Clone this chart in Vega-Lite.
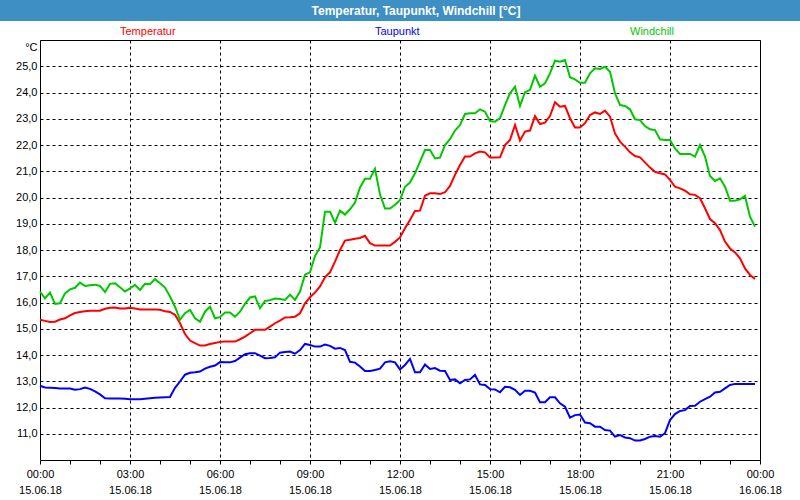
{
  "$schema": "https://vega.github.io/schema/vega-lite/v6.json",
  "padding": 0,
  "background": "white",
  "bounds": "flush",
  "center": true,
  "spacing": 19,
  "config": {"font": "Liberation Sans", "view": {"stroke": null}},
  "vconcat": [
    {
      "width": 800,
      "height": 21,
      "view": {"fill": "#3d8fc4", "stroke": null},
      "data": {"values": [{"label": "Temperatur, Taupunkt, Windchill [°C]"}]},
      "mark": {"type": "text", "color": "white", "fontWeight": "bold", "fontSize": 12, "font": "Liberation Sans", "dx": 16},
      "encoding": {"text": {"field": "label", "type": "nominal"}}
    },
    {
      "width": 720,
      "height": 420,
      "view": {"stroke": "black", "strokeWidth": 1},
      "data": {"values": [
        {"time": "2018-06-15T00:00:00Z", "Temperatur": 15.34, "Taupunkt": 12.83, "Windchill": 16.42},
        {"time": "2018-06-15T00:10:00Z", "Temperatur": 15.30, "Taupunkt": 12.76, "Windchill": 16.16},
        {"time": "2018-06-15T00:20:00Z", "Temperatur": 15.26, "Taupunkt": 12.75, "Windchill": 16.38},
        {"time": "2018-06-15T00:30:00Z", "Temperatur": 15.27, "Taupunkt": 12.74, "Windchill": 15.95},
        {"time": "2018-06-15T00:40:00Z", "Temperatur": 15.35, "Taupunkt": 12.72, "Windchill": 15.97},
        {"time": "2018-06-15T00:50:00Z", "Temperatur": 15.40, "Taupunkt": 12.72, "Windchill": 16.35},
        {"time": "2018-06-15T01:00:00Z", "Temperatur": 15.51, "Taupunkt": 12.72, "Windchill": 16.50},
        {"time": "2018-06-15T01:10:00Z", "Temperatur": 15.60, "Taupunkt": 12.68, "Windchill": 16.56},
        {"time": "2018-06-15T01:20:00Z", "Temperatur": 15.64, "Taupunkt": 12.70, "Windchill": 16.76},
        {"time": "2018-06-15T01:30:00Z", "Temperatur": 15.67, "Taupunkt": 12.76, "Windchill": 16.63},
        {"time": "2018-06-15T01:40:00Z", "Temperatur": 15.69, "Taupunkt": 12.71, "Windchill": 16.66},
        {"time": "2018-06-15T01:50:00Z", "Temperatur": 15.69, "Taupunkt": 12.61, "Windchill": 16.68},
        {"time": "2018-06-15T02:00:00Z", "Temperatur": 15.69, "Taupunkt": 12.50, "Windchill": 16.63},
        {"time": "2018-06-15T02:10:00Z", "Temperatur": 15.76, "Taupunkt": 12.35, "Windchill": 16.40},
        {"time": "2018-06-15T02:20:00Z", "Temperatur": 15.80, "Taupunkt": 12.34, "Windchill": 16.71},
        {"time": "2018-06-15T02:30:00Z", "Temperatur": 15.81, "Taupunkt": 12.34, "Windchill": 16.73},
        {"time": "2018-06-15T02:40:00Z", "Temperatur": 15.77, "Taupunkt": 12.34, "Windchill": 16.58},
        {"time": "2018-06-15T02:50:00Z", "Temperatur": 15.77, "Taupunkt": 12.33, "Windchill": 16.42},
        {"time": "2018-06-15T03:00:00Z", "Temperatur": 15.80, "Taupunkt": 12.31, "Windchill": 16.54},
        {"time": "2018-06-15T03:10:00Z", "Temperatur": 15.77, "Taupunkt": 12.31, "Windchill": 16.67},
        {"time": "2018-06-15T03:20:00Z", "Temperatur": 15.73, "Taupunkt": 12.31, "Windchill": 16.48},
        {"time": "2018-06-15T03:30:00Z", "Temperatur": 15.73, "Taupunkt": 12.33, "Windchill": 16.71},
        {"time": "2018-06-15T03:40:00Z", "Temperatur": 15.73, "Taupunkt": 12.35, "Windchill": 16.70},
        {"time": "2018-06-15T03:50:00Z", "Temperatur": 15.73, "Taupunkt": 12.37, "Windchill": 16.89},
        {"time": "2018-06-15T04:00:00Z", "Temperatur": 15.72, "Taupunkt": 12.38, "Windchill": 16.73},
        {"time": "2018-06-15T04:10:00Z", "Temperatur": 15.67, "Taupunkt": 12.39, "Windchill": 16.57},
        {"time": "2018-06-15T04:20:00Z", "Temperatur": 15.64, "Taupunkt": 12.40, "Windchill": 16.23},
        {"time": "2018-06-15T04:30:00Z", "Temperatur": 15.53, "Taupunkt": 12.75, "Windchill": 15.84},
        {"time": "2018-06-15T04:40:00Z", "Temperatur": 15.21, "Taupunkt": 12.99, "Windchill": 15.34},
        {"time": "2018-06-15T04:50:00Z", "Temperatur": 14.80, "Taupunkt": 13.25, "Windchill": 15.59},
        {"time": "2018-06-15T05:00:00Z", "Temperatur": 14.55, "Taupunkt": 13.32, "Windchill": 15.72},
        {"time": "2018-06-15T05:10:00Z", "Temperatur": 14.45, "Taupunkt": 13.34, "Windchill": 15.40},
        {"time": "2018-06-15T05:20:00Z", "Temperatur": 14.36, "Taupunkt": 13.37, "Windchill": 15.27},
        {"time": "2018-06-15T05:30:00Z", "Temperatur": 14.36, "Taupunkt": 13.48, "Windchill": 15.65},
        {"time": "2018-06-15T05:40:00Z", "Temperatur": 14.42, "Taupunkt": 13.55, "Windchill": 15.84},
        {"time": "2018-06-15T05:50:00Z", "Temperatur": 14.46, "Taupunkt": 13.60, "Windchill": 15.40},
        {"time": "2018-06-15T06:00:00Z", "Temperatur": 14.50, "Taupunkt": 13.73, "Windchill": 15.44},
        {"time": "2018-06-15T06:10:00Z", "Temperatur": 14.51, "Taupunkt": 13.72, "Windchill": 15.62},
        {"time": "2018-06-15T06:20:00Z", "Temperatur": 14.51, "Taupunkt": 13.72, "Windchill": 15.62},
        {"time": "2018-06-15T06:30:00Z", "Temperatur": 14.51, "Taupunkt": 13.77, "Windchill": 15.46},
        {"time": "2018-06-15T06:40:00Z", "Temperatur": 14.60, "Taupunkt": 13.90, "Windchill": 15.65},
        {"time": "2018-06-15T06:50:00Z", "Temperatur": 14.70, "Taupunkt": 14.03, "Windchill": 15.95},
        {"time": "2018-06-15T07:00:00Z", "Temperatur": 14.83, "Taupunkt": 14.07, "Windchill": 16.19},
        {"time": "2018-06-15T07:10:00Z", "Temperatur": 14.96, "Taupunkt": 14.07, "Windchill": 16.23},
        {"time": "2018-06-15T07:20:00Z", "Temperatur": 14.96, "Taupunkt": 13.98, "Windchill": 15.78},
        {"time": "2018-06-15T07:30:00Z", "Temperatur": 14.96, "Taupunkt": 13.88, "Windchill": 16.06},
        {"time": "2018-06-15T07:40:00Z", "Temperatur": 15.08, "Taupunkt": 13.89, "Windchill": 16.09},
        {"time": "2018-06-15T07:50:00Z", "Temperatur": 15.21, "Taupunkt": 13.91, "Windchill": 16.15},
        {"time": "2018-06-15T08:00:00Z", "Temperatur": 15.31, "Taupunkt": 14.09, "Windchill": 16.13},
        {"time": "2018-06-15T08:10:00Z", "Temperatur": 15.43, "Taupunkt": 14.11, "Windchill": 16.10},
        {"time": "2018-06-15T08:20:00Z", "Temperatur": 15.44, "Taupunkt": 14.13, "Windchill": 16.30},
        {"time": "2018-06-15T08:30:00Z", "Temperatur": 15.46, "Taupunkt": 14.05, "Windchill": 16.10},
        {"time": "2018-06-15T08:40:00Z", "Temperatur": 15.59, "Taupunkt": 14.19, "Windchill": 16.42},
        {"time": "2018-06-15T08:50:00Z", "Temperatur": 15.97, "Taupunkt": 14.42, "Windchill": 17.06},
        {"time": "2018-06-15T09:00:00Z", "Temperatur": 16.20, "Taupunkt": 14.38, "Windchill": 17.15},
        {"time": "2018-06-15T09:10:00Z", "Temperatur": 16.38, "Taupunkt": 14.32, "Windchill": 17.77},
        {"time": "2018-06-15T09:20:00Z", "Temperatur": 16.61, "Taupunkt": 14.32, "Windchill": 18.10},
        {"time": "2018-06-15T09:30:00Z", "Temperatur": 16.96, "Taupunkt": 14.40, "Windchill": 19.46},
        {"time": "2018-06-15T09:40:00Z", "Temperatur": 17.15, "Taupunkt": 14.35, "Windchill": 19.46},
        {"time": "2018-06-15T09:50:00Z", "Temperatur": 17.56, "Taupunkt": 14.24, "Windchill": 19.04},
        {"time": "2018-06-15T10:00:00Z", "Temperatur": 18.00, "Taupunkt": 14.27, "Windchill": 19.50},
        {"time": "2018-06-15T10:10:00Z", "Temperatur": 18.36, "Taupunkt": 14.19, "Windchill": 19.35},
        {"time": "2018-06-15T10:20:00Z", "Temperatur": 18.39, "Taupunkt": 13.74, "Windchill": 19.55},
        {"time": "2018-06-15T10:30:00Z", "Temperatur": 18.43, "Taupunkt": 13.71, "Windchill": 19.81},
        {"time": "2018-06-15T10:40:00Z", "Temperatur": 18.46, "Taupunkt": 13.56, "Windchill": 20.38},
        {"time": "2018-06-15T10:50:00Z", "Temperatur": 18.54, "Taupunkt": 13.39, "Windchill": 20.71},
        {"time": "2018-06-15T11:00:00Z", "Temperatur": 18.26, "Taupunkt": 13.39, "Windchill": 20.71},
        {"time": "2018-06-15T11:10:00Z", "Temperatur": 18.17, "Taupunkt": 13.43, "Windchill": 21.09},
        {"time": "2018-06-15T11:20:00Z", "Temperatur": 18.17, "Taupunkt": 13.48, "Windchill": 20.12},
        {"time": "2018-06-15T11:30:00Z", "Temperatur": 18.17, "Taupunkt": 13.72, "Windchill": 19.58},
        {"time": "2018-06-15T11:40:00Z", "Temperatur": 18.17, "Taupunkt": 13.76, "Windchill": 19.58},
        {"time": "2018-06-15T11:50:00Z", "Temperatur": 18.31, "Taupunkt": 13.72, "Windchill": 19.72},
        {"time": "2018-06-15T12:00:00Z", "Temperatur": 18.48, "Taupunkt": 13.45, "Windchill": 19.90},
        {"time": "2018-06-15T12:10:00Z", "Temperatur": 18.83, "Taupunkt": 13.62, "Windchill": 20.41},
        {"time": "2018-06-15T12:20:00Z", "Temperatur": 19.14, "Taupunkt": 13.85, "Windchill": 20.57},
        {"time": "2018-06-15T12:30:00Z", "Temperatur": 19.49, "Taupunkt": 13.34, "Windchill": 20.92},
        {"time": "2018-06-15T12:40:00Z", "Temperatur": 19.50, "Taupunkt": 13.34, "Windchill": 21.37},
        {"time": "2018-06-15T12:50:00Z", "Temperatur": 20.07, "Taupunkt": 13.64, "Windchill": 21.81},
        {"time": "2018-06-15T13:00:00Z", "Temperatur": 20.16, "Taupunkt": 13.47, "Windchill": 21.81},
        {"time": "2018-06-15T13:10:00Z", "Temperatur": 20.16, "Taupunkt": 13.50, "Windchill": 21.49},
        {"time": "2018-06-15T13:20:00Z", "Temperatur": 20.13, "Taupunkt": 13.40, "Windchill": 21.52},
        {"time": "2018-06-15T13:30:00Z", "Temperatur": 20.20, "Taupunkt": 13.39, "Windchill": 22.00},
        {"time": "2018-06-15T13:40:00Z", "Temperatur": 20.44, "Taupunkt": 13.05, "Windchill": 22.22},
        {"time": "2018-06-15T13:50:00Z", "Temperatur": 20.86, "Taupunkt": 13.07, "Windchill": 22.55},
        {"time": "2018-06-15T14:00:00Z", "Temperatur": 21.24, "Taupunkt": 12.92, "Windchill": 22.76},
        {"time": "2018-06-15T14:10:00Z", "Temperatur": 21.56, "Taupunkt": 13.05, "Windchill": 23.18},
        {"time": "2018-06-15T14:20:00Z", "Temperatur": 21.56, "Taupunkt": 13.07, "Windchill": 23.21},
        {"time": "2018-06-15T14:30:00Z", "Temperatur": 21.68, "Taupunkt": 13.24, "Windchill": 23.21},
        {"time": "2018-06-15T14:40:00Z", "Temperatur": 21.75, "Taupunkt": 12.88, "Windchill": 23.36},
        {"time": "2018-06-15T14:50:00Z", "Temperatur": 21.72, "Taupunkt": 12.86, "Windchill": 23.27},
        {"time": "2018-06-15T15:00:00Z", "Temperatur": 21.52, "Taupunkt": 12.70, "Windchill": 22.91},
        {"time": "2018-06-15T15:10:00Z", "Temperatur": 21.52, "Taupunkt": 12.69, "Windchill": 22.89},
        {"time": "2018-06-15T15:20:00Z", "Temperatur": 21.53, "Taupunkt": 12.58, "Windchill": 23.02},
        {"time": "2018-06-15T15:30:00Z", "Temperatur": 22.00, "Taupunkt": 12.79, "Windchill": 23.52},
        {"time": "2018-06-15T15:40:00Z", "Temperatur": 22.19, "Taupunkt": 12.77, "Windchill": 23.97},
        {"time": "2018-06-15T15:50:00Z", "Temperatur": 22.76, "Taupunkt": 12.67, "Windchill": 24.22},
        {"time": "2018-06-15T16:00:00Z", "Temperatur": 22.17, "Taupunkt": 12.48, "Windchill": 23.49},
        {"time": "2018-06-15T16:10:00Z", "Temperatur": 22.51, "Taupunkt": 12.64, "Windchill": 24.01},
        {"time": "2018-06-15T16:20:00Z", "Temperatur": 22.55, "Taupunkt": 12.64, "Windchill": 24.10},
        {"time": "2018-06-15T16:30:00Z", "Temperatur": 23.10, "Taupunkt": 12.57, "Windchill": 24.64},
        {"time": "2018-06-15T16:40:00Z", "Temperatur": 22.80, "Taupunkt": 12.20, "Windchill": 24.22},
        {"time": "2018-06-15T16:50:00Z", "Temperatur": 22.85, "Taupunkt": 12.20, "Windchill": 24.35},
        {"time": "2018-06-15T17:00:00Z", "Temperatur": 23.10, "Taupunkt": 12.39, "Windchill": 24.73},
        {"time": "2018-06-15T17:10:00Z", "Temperatur": 23.63, "Taupunkt": 12.39, "Windchill": 25.21},
        {"time": "2018-06-15T17:20:00Z", "Temperatur": 23.46, "Taupunkt": 12.16, "Windchill": 25.17},
        {"time": "2018-06-15T17:30:00Z", "Temperatur": 23.49, "Taupunkt": 12.03, "Windchill": 25.24},
        {"time": "2018-06-15T17:40:00Z", "Temperatur": 23.02, "Taupunkt": 11.61, "Windchill": 24.58},
        {"time": "2018-06-15T17:50:00Z", "Temperatur": 22.67, "Taupunkt": 11.71, "Windchill": 24.50},
        {"time": "2018-06-15T18:00:00Z", "Temperatur": 22.67, "Taupunkt": 11.73, "Windchill": 24.37},
        {"time": "2018-06-15T18:10:00Z", "Temperatur": 22.83, "Taupunkt": 11.43, "Windchill": 24.37},
        {"time": "2018-06-15T18:20:00Z", "Temperatur": 23.14, "Taupunkt": 11.40, "Windchill": 24.73},
        {"time": "2018-06-15T18:30:00Z", "Temperatur": 23.24, "Taupunkt": 11.27, "Windchill": 24.92},
        {"time": "2018-06-15T18:40:00Z", "Temperatur": 23.18, "Taupunkt": 11.27, "Windchill": 24.90},
        {"time": "2018-06-15T18:50:00Z", "Temperatur": 23.31, "Taupunkt": 11.14, "Windchill": 24.98},
        {"time": "2018-06-15T19:00:00Z", "Temperatur": 23.08, "Taupunkt": 11.12, "Windchill": 24.79},
        {"time": "2018-06-15T19:10:00Z", "Temperatur": 22.44, "Taupunkt": 10.89, "Windchill": 23.97},
        {"time": "2018-06-15T19:20:00Z", "Temperatur": 22.13, "Taupunkt": 10.95, "Windchill": 23.52},
        {"time": "2018-06-15T19:30:00Z", "Temperatur": 21.94, "Taupunkt": 10.86, "Windchill": 23.49},
        {"time": "2018-06-15T19:40:00Z", "Temperatur": 21.72, "Taupunkt": 10.83, "Windchill": 23.36},
        {"time": "2018-06-15T19:50:00Z", "Temperatur": 21.58, "Taupunkt": 10.74, "Windchill": 22.98},
        {"time": "2018-06-15T20:00:00Z", "Temperatur": 21.53, "Taupunkt": 10.74, "Windchill": 22.95},
        {"time": "2018-06-15T20:10:00Z", "Temperatur": 21.34, "Taupunkt": 10.80, "Windchill": 22.72},
        {"time": "2018-06-15T20:20:00Z", "Temperatur": 21.14, "Taupunkt": 10.89, "Windchill": 22.60},
        {"time": "2018-06-15T20:30:00Z", "Temperatur": 20.98, "Taupunkt": 10.91, "Windchill": 22.57},
        {"time": "2018-06-15T20:40:00Z", "Temperatur": 20.92, "Taupunkt": 10.89, "Windchill": 22.22},
        {"time": "2018-06-15T20:50:00Z", "Temperatur": 20.88, "Taupunkt": 11.02, "Windchill": 22.19},
        {"time": "2018-06-15T21:00:00Z", "Temperatur": 20.67, "Taupunkt": 11.52, "Windchill": 22.19},
        {"time": "2018-06-15T21:10:00Z", "Temperatur": 20.41, "Taupunkt": 11.75, "Windchill": 21.87},
        {"time": "2018-06-15T21:20:00Z", "Temperatur": 20.35, "Taupunkt": 11.87, "Windchill": 21.66},
        {"time": "2018-06-15T21:30:00Z", "Temperatur": 20.26, "Taupunkt": 11.90, "Windchill": 21.66},
        {"time": "2018-06-15T21:40:00Z", "Temperatur": 20.12, "Taupunkt": 12.06, "Windchill": 21.66},
        {"time": "2018-06-15T21:50:00Z", "Temperatur": 20.10, "Taupunkt": 12.07, "Windchill": 21.56},
        {"time": "2018-06-15T22:00:00Z", "Temperatur": 19.97, "Taupunkt": 12.22, "Windchill": 22.00},
        {"time": "2018-06-15T22:10:00Z", "Temperatur": 19.59, "Taupunkt": 12.32, "Windchill": 21.56},
        {"time": "2018-06-15T22:20:00Z", "Temperatur": 19.18, "Taupunkt": 12.41, "Windchill": 20.82},
        {"time": "2018-06-15T22:30:00Z", "Temperatur": 19.02, "Taupunkt": 12.57, "Windchill": 20.63},
        {"time": "2018-06-15T22:40:00Z", "Temperatur": 18.76, "Taupunkt": 12.60, "Windchill": 20.73},
        {"time": "2018-06-15T22:50:00Z", "Temperatur": 18.32, "Taupunkt": 12.73, "Windchill": 20.41},
        {"time": "2018-06-15T23:00:00Z", "Temperatur": 18.06, "Taupunkt": 12.86, "Windchill": 19.88},
        {"time": "2018-06-15T23:10:00Z", "Temperatur": 17.91, "Taupunkt": 12.90, "Windchill": 19.88},
        {"time": "2018-06-15T23:20:00Z", "Temperatur": 17.68, "Taupunkt": 12.90, "Windchill": 19.93},
        {"time": "2018-06-15T23:30:00Z", "Temperatur": 17.30, "Taupunkt": 12.90, "Windchill": 20.06},
        {"time": "2018-06-15T23:40:00Z", "Temperatur": 17.05, "Taupunkt": 12.90, "Windchill": 19.27},
        {"time": "2018-06-15T23:50:00Z", "Temperatur": 16.90, "Taupunkt": 12.90, "Windchill": 18.89}
      ]},
      "transform": [{"fold": ["Temperatur", "Taupunkt", "Windchill"], "as": ["series", "value"]}],
      "mark": {"type": "line", "strokeWidth": 2},
      "encoding": {
        "x": {
          "field": "time", "type": "temporal",
          "scale": {"type": "utc", "nice": false, "domain": [1529020800000, 1529107200000]},
          "axis": {
            "title": null, "domain": false,
            "tickCount": 24,
            "labelExpr": "utchours(datum.value) % 3 == 0 ? [utcFormat(datum.value, '%H:%M'), utcFormat(datum.value, '%d.%m.%y')] : ''",
            "labelFlush": false, "labelOverlap": false, "labelBound": false,
            "labelFontSize": 11, "labelColor": "black",
            "labelLineHeight": 16, "labelPadding": 4,
            "tickSize": 4, "tickColor": "black",
            "grid": true, "gridColor": "black", "gridDash": [3, 3],
            "gridOpacity": {"condition": {"test": "utchours(datum.value) % 3 == 0", "value": 1}, "value": 0}
          }
        },
        "y": {
          "field": "value", "type": "quantitative",
          "scale": {"domain": [10, 26], "nice": false, "zero": false},
          "axis": {
            "values": [11, 12, 13, 14, 15, 16, 17, 18, 19, 20, 21, 22, 23, 24, 25],
            "labelExpr": "replace(format(datum.value, '.1f'), '.', ',')",
            "ticks": false, "domain": false, "labelPadding": 3,
            "labelFontSize": 11, "labelColor": "black",
            "grid": true, "gridColor": "black", "gridDash": [3, 3],
            "title": "°C", "titleAngle": 0, "titleAlign": "right", "titleBaseline": "top",
            "titleX": -3, "titleY": 1, "titleFontWeight": "normal", "titleFontSize": 11, "titleColor": "black"
          }
        },
        "color": {
          "field": "series", "type": "nominal",
          "scale": {"domain": ["Temperatur", "Taupunkt", "Windchill"], "range": ["#ff0000", "#0000ff", "#00c800"]},
          "legend": {
            "title": null, "orient": "none", "legendX": 109, "legendY": 26,
            "direction": "horizontal", "columns": 3, "gridAlign": "all", "columnPadding": 188,
            "symbolSize": 0, "symbolOpacity": 0, "symbolStrokeWidth": 0, "labelOffset": 0,
            "labelFontSize": 11, "padding": 0,
            "encode": {"labels": {"update": {"fill": {"scale": "color", "field": "value"}}}}
          }
        }
      }
    }
  ]
}
